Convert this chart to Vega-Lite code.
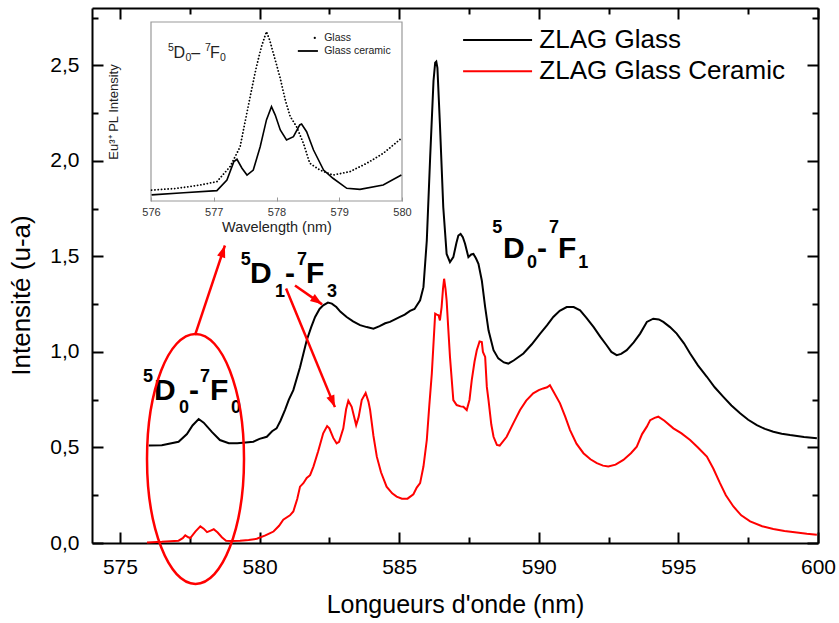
{
"$schema": "https://vega.github.io/schema/vega-lite/v6.json",
"width": 726, "height": 535,
"autosize": {"type": "none"},
"padding": {"left": 92, "top": 8, "right": 21, "bottom": 80},
"background": "white",
"config": {"font": "Liberation Sans", "view": {"stroke": null},
  "axis": {"grid": false, "labelFlush": false, "labelOverlap": false, "labelBound": false, "domainColor": "black", "tickColor": "black", "labelColor": "black", "titleColor": "black", "titleFontWeight": "normal"}},
"datasets": {
"spectra": [
{"s":"ZLAG Glass","wl":576.03,"i":0.51},{"s":"ZLAG Glass","wl":576.5,"i":0.512},{"s":"ZLAG Glass","wl":577.1,"i":0.53},{"s":"ZLAG Glass","wl":577.4,"i":0.57},{"s":"ZLAG Glass","wl":577.6,"i":0.615},{"s":"ZLAG Glass","wl":577.82,"i":0.649},{"s":"ZLAG Glass","wl":578.0,"i":0.63},{"s":"ZLAG Glass","wl":578.3,"i":0.58},{"s":"ZLAG Glass","wl":578.58,"i":0.539},{"s":"ZLAG Glass","wl":578.9,"i":0.522},{"s":"ZLAG Glass","wl":579.2,"i":0.522},{"s":"ZLAG Glass","wl":579.5,"i":0.526},{"s":"ZLAG Glass","wl":579.78,"i":0.53},{"s":"ZLAG Glass","wl":580.0,"i":0.545},{"s":"ZLAG Glass","wl":580.26,"i":0.556},{"s":"ZLAG Glass","wl":580.45,"i":0.585},{"s":"ZLAG Glass","wl":580.61,"i":0.6},{"s":"ZLAG Glass","wl":580.75,"i":0.64},{"s":"ZLAG Glass","wl":580.91,"i":0.696},{"s":"ZLAG Glass","wl":581.05,"i":0.75},{"s":"ZLAG Glass","wl":581.21,"i":0.8},{"s":"ZLAG Glass","wl":581.45,"i":0.92},{"s":"ZLAG Glass","wl":581.69,"i":1.061},{"s":"ZLAG Glass","wl":581.85,"i":1.13},{"s":"ZLAG Glass","wl":581.99,"i":1.183},{"s":"ZLAG Glass","wl":582.15,"i":1.225},{"s":"ZLAG Glass","wl":582.28,"i":1.244},{"s":"ZLAG Glass","wl":582.45,"i":1.258},{"s":"ZLAG Glass","wl":582.59,"i":1.253},{"s":"ZLAG Glass","wl":582.75,"i":1.235},{"s":"ZLAG Glass","wl":582.9,"i":1.21},{"s":"ZLAG Glass","wl":583.12,"i":1.183},{"s":"ZLAG Glass","wl":583.35,"i":1.16},{"s":"ZLAG Glass","wl":583.6,"i":1.14},{"s":"ZLAG Glass","wl":583.84,"i":1.13},{"s":"ZLAG Glass","wl":584.08,"i":1.122},{"s":"ZLAG Glass","wl":584.3,"i":1.135},{"s":"ZLAG Glass","wl":584.5,"i":1.15},{"s":"ZLAG Glass","wl":584.67,"i":1.157},{"s":"ZLAG Glass","wl":584.85,"i":1.17},{"s":"ZLAG Glass","wl":585.03,"i":1.183},{"s":"ZLAG Glass","wl":585.2,"i":1.195},{"s":"ZLAG Glass","wl":585.39,"i":1.215},{"s":"ZLAG Glass","wl":585.55,"i":1.225},{"s":"ZLAG Glass","wl":585.75,"i":1.27},{"s":"ZLAG Glass","wl":585.87,"i":1.339},{"s":"ZLAG Glass","wl":585.99,"i":1.583},{"s":"ZLAG Glass","wl":586.11,"i":2.018},{"s":"ZLAG Glass","wl":586.23,"i":2.418},{"s":"ZLAG Glass","wl":586.29,"i":2.514},{"s":"ZLAG Glass","wl":586.33,"i":2.52},{"s":"ZLAG Glass","wl":586.37,"i":2.487},{"s":"ZLAG Glass","wl":586.46,"i":2.192},{"s":"ZLAG Glass","wl":586.58,"i":1.757},{"s":"ZLAG Glass","wl":586.7,"i":1.513},{"s":"ZLAG Glass","wl":586.82,"i":1.47},{"s":"ZLAG Glass","wl":586.94,"i":1.496},{"s":"ZLAG Glass","wl":587.05,"i":1.57},{"s":"ZLAG Glass","wl":587.12,"i":1.609},{"s":"ZLAG Glass","wl":587.2,"i":1.618},{"s":"ZLAG Glass","wl":587.28,"i":1.6},{"s":"ZLAG Glass","wl":587.36,"i":1.566},{"s":"ZLAG Glass","wl":587.48,"i":1.496},{"s":"ZLAG Glass","wl":587.58,"i":1.51},{"s":"ZLAG Glass","wl":587.66,"i":1.513},{"s":"ZLAG Glass","wl":587.75,"i":1.49},{"s":"ZLAG Glass","wl":587.84,"i":1.461},{"s":"ZLAG Glass","wl":587.96,"i":1.374},{"s":"ZLAG Glass","wl":588.08,"i":1.235},{"s":"ZLAG Glass","wl":588.2,"i":1.113},{"s":"ZLAG Glass","wl":588.38,"i":1.009},{"s":"ZLAG Glass","wl":588.55,"i":0.966},{"s":"ZLAG Glass","wl":588.75,"i":0.945},{"s":"ZLAG Glass","wl":588.91,"i":0.939},{"s":"ZLAG Glass","wl":589.1,"i":0.955},{"s":"ZLAG Glass","wl":589.45,"i":0.992},{"s":"ZLAG Glass","wl":589.75,"i":1.04},{"s":"ZLAG Glass","wl":590.05,"i":1.096},{"s":"ZLAG Glass","wl":590.3,"i":1.14},{"s":"ZLAG Glass","wl":590.52,"i":1.183},{"s":"ZLAG Glass","wl":590.75,"i":1.215},{"s":"ZLAG Glass","wl":591.0,"i":1.235},{"s":"ZLAG Glass","wl":591.25,"i":1.235},{"s":"ZLAG Glass","wl":591.48,"i":1.218},{"s":"ZLAG Glass","wl":591.7,"i":1.18},{"s":"ZLAG Glass","wl":591.96,"i":1.131},{"s":"ZLAG Glass","wl":592.2,"i":1.08},{"s":"ZLAG Glass","wl":592.43,"i":1.035},{"s":"ZLAG Glass","wl":592.6,"i":1.0},{"s":"ZLAG Glass","wl":592.79,"i":0.983},{"s":"ZLAG Glass","wl":592.95,"i":0.99},{"s":"ZLAG Glass","wl":593.15,"i":1.009},{"s":"ZLAG Glass","wl":593.4,"i":1.05},{"s":"ZLAG Glass","wl":593.63,"i":1.096},{"s":"ZLAG Glass","wl":593.87,"i":1.157},{"s":"ZLAG Glass","wl":594.1,"i":1.174},{"s":"ZLAG Glass","wl":594.3,"i":1.17},{"s":"ZLAG Glass","wl":594.46,"i":1.157},{"s":"ZLAG Glass","wl":594.7,"i":1.13},{"s":"ZLAG Glass","wl":594.94,"i":1.096},{"s":"ZLAG Glass","wl":595.2,"i":1.045},{"s":"ZLAG Glass","wl":595.42,"i":0.992},{"s":"ZLAG Glass","wl":595.7,"i":0.93},{"s":"ZLAG Glass","wl":596.02,"i":0.87},{"s":"ZLAG Glass","wl":596.3,"i":0.815},{"s":"ZLAG Glass","wl":596.61,"i":0.765},{"s":"ZLAG Glass","wl":596.9,"i":0.72},{"s":"ZLAG Glass","wl":597.21,"i":0.679},{"s":"ZLAG Glass","wl":597.5,"i":0.645},{"s":"ZLAG Glass","wl":597.81,"i":0.617},{"s":"ZLAG Glass","wl":598.1,"i":0.597},{"s":"ZLAG Glass","wl":598.4,"i":0.582},{"s":"ZLAG Glass","wl":598.7,"i":0.572},{"s":"ZLAG Glass","wl":599.0,"i":0.565},{"s":"ZLAG Glass","wl":599.5,"i":0.555},{"s":"ZLAG Glass","wl":599.96,"i":0.548},
{"s":"ZLAG Glass Ceramic","wl":575.97,"i":0.003},{"s":"ZLAG Glass Ceramic","wl":576.5,"i":0.006},{"s":"ZLAG Glass Ceramic","wl":577.1,"i":0.012},{"s":"ZLAG Glass Ceramic","wl":577.25,"i":0.025},{"s":"ZLAG Glass Ceramic","wl":577.34,"i":0.04},{"s":"ZLAG Glass Ceramic","wl":577.45,"i":0.03},{"s":"ZLAG Glass Ceramic","wl":577.52,"i":0.026},{"s":"ZLAG Glass Ceramic","wl":577.7,"i":0.06},{"s":"ZLAG Glass Ceramic","wl":577.88,"i":0.087},{"s":"ZLAG Glass Ceramic","wl":578.0,"i":0.075},{"s":"ZLAG Glass Ceramic","wl":578.12,"i":0.057},{"s":"ZLAG Glass Ceramic","wl":578.25,"i":0.065},{"s":"ZLAG Glass Ceramic","wl":578.36,"i":0.072},{"s":"ZLAG Glass Ceramic","wl":578.5,"i":0.055},{"s":"ZLAG Glass Ceramic","wl":578.65,"i":0.03},{"s":"ZLAG Glass Ceramic","wl":578.8,"i":0.012},{"s":"ZLAG Glass Ceramic","wl":579.0,"i":0.01},{"s":"ZLAG Glass Ceramic","wl":579.3,"i":0.012},{"s":"ZLAG Glass Ceramic","wl":579.61,"i":0.016},{"s":"ZLAG Glass Ceramic","wl":579.9,"i":0.022},{"s":"ZLAG Glass Ceramic","wl":580.21,"i":0.04},{"s":"ZLAG Glass Ceramic","wl":580.38,"i":0.052},{"s":"ZLAG Glass Ceramic","wl":580.5,"i":0.06},{"s":"ZLAG Glass Ceramic","wl":580.7,"i":0.09},{"s":"ZLAG Glass Ceramic","wl":580.85,"i":0.122},{"s":"ZLAG Glass Ceramic","wl":581.09,"i":0.145},{"s":"ZLAG Glass Ceramic","wl":581.21,"i":0.165},{"s":"ZLAG Glass Ceramic","wl":581.35,"i":0.23},{"s":"ZLAG Glass Ceramic","wl":581.45,"i":0.295},{"s":"ZLAG Glass Ceramic","wl":581.57,"i":0.313},{"s":"ZLAG Glass Ceramic","wl":581.69,"i":0.34},{"s":"ZLAG Glass Ceramic","wl":581.81,"i":0.355},{"s":"ZLAG Glass Ceramic","wl":581.93,"i":0.4},{"s":"ZLAG Glass Ceramic","wl":582.1,"i":0.48},{"s":"ZLAG Glass Ceramic","wl":582.28,"i":0.574},{"s":"ZLAG Glass Ceramic","wl":582.42,"i":0.612},{"s":"ZLAG Glass Ceramic","wl":582.5,"i":0.6},{"s":"ZLAG Glass Ceramic","wl":582.64,"i":0.55},{"s":"ZLAG Glass Ceramic","wl":582.76,"i":0.522},{"s":"ZLAG Glass Ceramic","wl":582.85,"i":0.53},{"s":"ZLAG Glass Ceramic","wl":583.0,"i":0.6},{"s":"ZLAG Glass Ceramic","wl":583.1,"i":0.7},{"s":"ZLAG Glass Ceramic","wl":583.18,"i":0.745},{"s":"ZLAG Glass Ceramic","wl":583.3,"i":0.713},{"s":"ZLAG Glass Ceramic","wl":583.46,"i":0.617},{"s":"ZLAG Glass Ceramic","wl":583.55,"i":0.66},{"s":"ZLAG Glass Ceramic","wl":583.66,"i":0.748},{"s":"ZLAG Glass Ceramic","wl":583.8,"i":0.785},{"s":"ZLAG Glass Ceramic","wl":583.9,"i":0.74},{"s":"ZLAG Glass Ceramic","wl":583.96,"i":0.696},{"s":"ZLAG Glass Ceramic","wl":584.08,"i":0.56},{"s":"ZLAG Glass Ceramic","wl":584.2,"i":0.452},{"s":"ZLAG Glass Ceramic","wl":584.35,"i":0.37},{"s":"ZLAG Glass Ceramic","wl":584.55,"i":0.295},{"s":"ZLAG Glass Ceramic","wl":584.75,"i":0.26},{"s":"ZLAG Glass Ceramic","wl":584.91,"i":0.243},{"s":"ZLAG Glass Ceramic","wl":585.1,"i":0.232},{"s":"ZLAG Glass Ceramic","wl":585.3,"i":0.232},{"s":"ZLAG Glass Ceramic","wl":585.51,"i":0.255},{"s":"ZLAG Glass Ceramic","wl":585.63,"i":0.29},{"s":"ZLAG Glass Ceramic","wl":585.75,"i":0.313},{"s":"ZLAG Glass Ceramic","wl":585.87,"i":0.4},{"s":"ZLAG Glass Ceramic","wl":585.99,"i":0.539},{"s":"ZLAG Glass Ceramic","wl":586.08,"i":0.72},{"s":"ZLAG Glass Ceramic","wl":586.17,"i":0.887},{"s":"ZLAG Glass Ceramic","wl":586.29,"i":1.2},{"s":"ZLAG Glass Ceramic","wl":586.35,"i":1.195},{"s":"ZLAG Glass Ceramic","wl":586.41,"i":1.192},{"s":"ZLAG Glass Ceramic","wl":586.46,"i":1.165},{"s":"ZLAG Glass Ceramic","wl":586.52,"i":1.235},{"s":"ZLAG Glass Ceramic","wl":586.57,"i":1.33},{"s":"ZLAG Glass Ceramic","wl":586.61,"i":1.383},{"s":"ZLAG Glass Ceramic","wl":586.66,"i":1.33},{"s":"ZLAG Glass Ceramic","wl":586.7,"i":1.27},{"s":"ZLAG Glass Ceramic","wl":586.76,"i":1.12},{"s":"ZLAG Glass Ceramic","wl":586.82,"i":0.974},{"s":"ZLAG Glass Ceramic","wl":586.94,"i":0.748},{"s":"ZLAG Glass Ceramic","wl":587.06,"i":0.722},{"s":"ZLAG Glass Ceramic","wl":587.2,"i":0.715},{"s":"ZLAG Glass Ceramic","wl":587.3,"i":0.713},{"s":"ZLAG Glass Ceramic","wl":587.42,"i":0.696},{"s":"ZLAG Glass Ceramic","wl":587.52,"i":0.75},{"s":"ZLAG Glass Ceramic","wl":587.6,"i":0.852},{"s":"ZLAG Glass Ceramic","wl":587.7,"i":0.95},{"s":"ZLAG Glass Ceramic","wl":587.78,"i":1.009},{"s":"ZLAG Glass Ceramic","wl":587.88,"i":1.055},{"s":"ZLAG Glass Ceramic","wl":587.96,"i":1.052},{"s":"ZLAG Glass Ceramic","wl":588.0,"i":1.0},{"s":"ZLAG Glass Ceramic","wl":588.08,"i":0.974},{"s":"ZLAG Glass Ceramic","wl":588.14,"i":0.817},{"s":"ZLAG Glass Ceramic","wl":588.2,"i":0.748},{"s":"ZLAG Glass Ceramic","wl":588.3,"i":0.62},{"s":"ZLAG Glass Ceramic","wl":588.38,"i":0.556},{"s":"ZLAG Glass Ceramic","wl":588.5,"i":0.513},{"s":"ZLAG Glass Ceramic","wl":588.6,"i":0.51},{"s":"ZLAG Glass Ceramic","wl":588.85,"i":0.556},{"s":"ZLAG Glass Ceramic","wl":589.1,"i":0.63},{"s":"ZLAG Glass Ceramic","wl":589.33,"i":0.696},{"s":"ZLAG Glass Ceramic","wl":589.55,"i":0.745},{"s":"ZLAG Glass Ceramic","wl":589.8,"i":0.783},{"s":"ZLAG Glass Ceramic","wl":590.0,"i":0.8},{"s":"ZLAG Glass Ceramic","wl":590.16,"i":0.809},{"s":"ZLAG Glass Ceramic","wl":590.3,"i":0.815},{"s":"ZLAG Glass Ceramic","wl":590.4,"i":0.826},{"s":"ZLAG Glass Ceramic","wl":590.5,"i":0.8},{"s":"ZLAG Glass Ceramic","wl":590.76,"i":0.731},{"s":"ZLAG Glass Ceramic","wl":590.95,"i":0.66},{"s":"ZLAG Glass Ceramic","wl":591.12,"i":0.591},{"s":"ZLAG Glass Ceramic","wl":591.35,"i":0.52},{"s":"ZLAG Glass Ceramic","wl":591.6,"i":0.47},{"s":"ZLAG Glass Ceramic","wl":591.85,"i":0.438},{"s":"ZLAG Glass Ceramic","wl":592.08,"i":0.418},{"s":"ZLAG Glass Ceramic","wl":592.3,"i":0.405},{"s":"ZLAG Glass Ceramic","wl":592.49,"i":0.4},{"s":"ZLAG Glass Ceramic","wl":592.75,"i":0.41},{"s":"ZLAG Glass Ceramic","wl":593.03,"i":0.435},{"s":"ZLAG Glass Ceramic","wl":593.3,"i":0.47},{"s":"ZLAG Glass Ceramic","wl":593.51,"i":0.504},{"s":"ZLAG Glass Ceramic","wl":593.7,"i":0.57},{"s":"ZLAG Glass Ceramic","wl":593.87,"i":0.609},{"s":"ZLAG Glass Ceramic","wl":593.99,"i":0.643},{"s":"ZLAG Glass Ceramic","wl":594.15,"i":0.655},{"s":"ZLAG Glass Ceramic","wl":594.28,"i":0.661},{"s":"ZLAG Glass Ceramic","wl":594.5,"i":0.64},{"s":"ZLAG Glass Ceramic","wl":594.82,"i":0.6},{"s":"ZLAG Glass Ceramic","wl":595.1,"i":0.575},{"s":"ZLAG Glass Ceramic","wl":595.42,"i":0.539},{"s":"ZLAG Glass Ceramic","wl":595.7,"i":0.5},{"s":"ZLAG Glass Ceramic","wl":596.02,"i":0.452},{"s":"ZLAG Glass Ceramic","wl":596.25,"i":0.39},{"s":"ZLAG Glass Ceramic","wl":596.49,"i":0.313},{"s":"ZLAG Glass Ceramic","wl":596.7,"i":0.25},{"s":"ZLAG Glass Ceramic","wl":596.97,"i":0.191},{"s":"ZLAG Glass Ceramic","wl":597.25,"i":0.145},{"s":"ZLAG Glass Ceramic","wl":597.57,"i":0.113},{"s":"ZLAG Glass Ceramic","wl":598.0,"i":0.088},{"s":"ZLAG Glass Ceramic","wl":598.4,"i":0.073},{"s":"ZLAG Glass Ceramic","wl":598.8,"i":0.063},{"s":"ZLAG Glass Ceramic","wl":599.24,"i":0.055},{"s":"ZLAG Glass Ceramic","wl":599.6,"i":0.048},{"s":"ZLAG Glass Ceramic","wl":599.96,"i":0.043}
],
"inset": [
{"s":"Glass","wl":576.01,"i":0.061},{"s":"Glass","wl":576.4,"i":0.07},{"s":"Glass","wl":576.78,"i":0.089},{"s":"Glass","wl":577.05,"i":0.108},{"s":"Glass","wl":577.26,"i":0.192},{"s":"Glass","wl":577.42,"i":0.303},{"s":"Glass","wl":577.58,"i":0.583},{"s":"Glass","wl":577.68,"i":0.75},{"s":"Glass","wl":577.76,"i":0.862},{"s":"Glass","wl":577.84,"i":0.946},{"s":"Glass","wl":577.89,"i":0.9},{"s":"Glass","wl":577.98,"i":0.788},{"s":"Glass","wl":578.06,"i":0.685},{"s":"Glass","wl":578.14,"i":0.564},{"s":"Glass","wl":578.22,"i":0.471},{"s":"Glass","wl":578.32,"i":0.415},{"s":"Glass","wl":578.43,"i":0.322},{"s":"Glass","wl":578.53,"i":0.211},{"s":"Glass","wl":578.69,"i":0.173},{"s":"Glass","wl":578.9,"i":0.145},{"s":"Glass","wl":579.17,"i":0.164},{"s":"Glass","wl":579.44,"i":0.211},{"s":"Glass","wl":579.7,"i":0.266},{"s":"Glass","wl":579.99,"i":0.35},
{"s":"Glass ceramic","wl":576.01,"i":0.034},{"s":"Glass ceramic","wl":576.52,"i":0.046},{"s":"Glass ceramic","wl":577.05,"i":0.058},{"s":"Glass ceramic","wl":577.21,"i":0.117},{"s":"Glass ceramic","wl":577.32,"i":0.22},{"s":"Glass ceramic","wl":577.37,"i":0.233},{"s":"Glass ceramic","wl":577.45,"i":0.183},{"s":"Glass ceramic","wl":577.53,"i":0.145},{"s":"Glass ceramic","wl":577.63,"i":0.173},{"s":"Glass ceramic","wl":577.74,"i":0.303},{"s":"Glass ceramic","wl":577.84,"i":0.453},{"s":"Glass ceramic","wl":577.92,"i":0.527},{"s":"Glass ceramic","wl":577.98,"i":0.48},{"s":"Glass ceramic","wl":578.06,"i":0.397},{"s":"Glass ceramic","wl":578.16,"i":0.341},{"s":"Glass ceramic","wl":578.27,"i":0.359},{"s":"Glass ceramic","wl":578.37,"i":0.425},{"s":"Glass ceramic","wl":578.4,"i":0.43},{"s":"Glass ceramic","wl":578.48,"i":0.387},{"s":"Glass ceramic","wl":578.59,"i":0.285},{"s":"Glass ceramic","wl":578.75,"i":0.173},{"s":"Glass ceramic","wl":578.9,"i":0.127},{"s":"Glass ceramic","wl":579.12,"i":0.071},{"s":"Glass ceramic","wl":579.33,"i":0.065},{"s":"Glass ceramic","wl":579.7,"i":0.089},{"s":"Glass ceramic","wl":579.99,"i":0.145}
],
"labels": [
{"t":"5","wl":575.83,"i":0.842,"k":"sup"},{"t":"D","wl":576.22,"i":0.748,"k":"big"},{"t":"0","wl":577.12,"i":0.68,"k":"sub"},{"t":"-","wl":577.47,"i":0.748,"k":"big"},{"t":"7","wl":577.87,"i":0.842,"k":"sup"},{"t":"F","wl":578.23,"i":0.748,"k":"big"},{"t":"0","wl":578.98,"i":0.68,"k":"sub"},
{"t":"5","wl":579.33,"i":1.453,"k":"sup"},{"t":"D","wl":579.66,"i":1.359,"k":"big"},{"t":"1","wl":580.55,"i":1.286,"k":"sub"},{"t":"-","wl":580.91,"i":1.359,"k":"big"},{"t":"7","wl":581.34,"i":1.453,"k":"sup"},{"t":"F","wl":581.66,"i":1.359,"k":"big"},{"t":"3","wl":582.42,"i":1.286,"k":"sub"},
{"t":"5","wl":588.33,"i":1.62,"k":"sup"},{"t":"D","wl":588.72,"i":1.494,"k":"big"},{"t":"0","wl":589.58,"i":1.437,"k":"sub"},{"t":"-","wl":589.94,"i":1.494,"k":"big"},{"t":"7","wl":590.37,"i":1.62,"k":"sup"},{"t":"F","wl":590.69,"i":1.494,"k":"big"},{"t":"1","wl":591.41,"i":1.437,"k":"sub"}
],
"ilabels": [
{"t":"5","wl":576.27,"i":0.838,"k":"sup"},{"t":"D","wl":576.36,"i":0.799,"k":"big"},{"t":"0","wl":576.55,"i":0.782,"k":"sub"},{"t":"–","wl":576.64,"i":0.799,"k":"big"},{"t":"7","wl":576.86,"i":0.838,"k":"sup"},{"t":"F","wl":576.94,"i":0.799,"k":"big"},{"t":"0","wl":577.1,"i":0.782,"k":"sub"}
],
"arrows": [
{"id":1,"wl":577.69,"i":1.088,"wl2":578.76,"i2":1.557},
{"id":2,"wl":580.95,"i":1.332,"wl2":582.7,"i2":0.711},
{"id":3,"wl":581.27,"i":1.348,"wl2":582.24,"i2":1.249}
],
"ellipse": [{"wl":577.707,"i":0.44}],
"legend": [
{"s":"ZLAG Glass","wl":587.29,"wl2":589.76,"tx":590.02,"i":2.633},
{"s":"ZLAG Glass Ceramic","wl":587.29,"wl2":589.76,"tx":590.02,"i":2.469}
],
"frame": [{"x0":576,"x1":580,"y0":0,"y1":1}],
"ileg": [
{"s":"Glass","wl":578.61,"wl2":578.61,"tx":578.76,"i":0.911},
{"s":"Glass ceramic","wl":578.34,"wl2":578.66,"tx":578.76,"i":0.838}
]
},
"resolve": {"scale": {"x": "independent", "y": "independent"}, "axis": {"x": "independent", "y": "independent"}},
"layer": [
{
 "data": {"name": "spectra"},
 "mark": {"type": "line", "strokeWidth": 2},
 "encoding": {
  "x": {"field": "wl", "type": "quantitative", "scale": {"domain": [574, 600], "nice": false, "zero": false},
   "axis": {"orient": "bottom", "values": [575, 580, 585, 590, 595, 600], "format": "d", "labelFontSize": 21, "labelPadding": 24, "tickSize": -11, "tickWidth": 2, "domainWidth": 2, "title": "Longueurs d'onde (nm)", "titleFontSize": 25, "titlePadding": 15}},
  "y": {"field": "i", "type": "quantitative", "scale": {"domain": [0, 2.8], "nice": false, "zero": false},
   "axis": {"orient": "left", "values": [0, 0.5, 1, 1.5, 2, 2.5], "labelExpr": "replace(format(datum.value, '.1f'), '.', ',')", "labelFontSize": 21, "labelPadding": 24, "tickSize": -11, "tickWidth": 2, "domainWidth": 2, "title": "Intensité (u-a)", "titleFontSize": 26, "titlePadding": 15, "titleY": 287}},
  "color": {"field": "s", "type": "nominal", "scale": {"domain": ["ZLAG Glass", "ZLAG Glass Ceramic"], "range": ["#000000", "#ff0000"]}, "legend": null}
 }
},
{
 "data": {"name": "labels"},
 "transform": [{"filter": "datum.k == 'big'"}],
 "mark": {"type": "text", "fontSize": 30, "fontWeight": "bold", "align": "left", "baseline": "alphabetic", "color": "black"},
 "encoding": {
  "x": {"field": "wl", "type": "quantitative", "scale": {"domain": [574, 600], "nice": false, "zero": false},
   "axis": {"orient": "bottom", "values": [577.5, 582.5, 587.5, 592.5, 597.5], "labels": false, "domain": false, "tickSize": -6, "tickWidth": 2, "title": null}},
  "y": {"field": "i", "type": "quantitative", "scale": {"domain": [0, 2.8], "nice": false, "zero": false},
   "axis": {"orient": "left", "values": [0.25, 0.75, 1.25, 1.75, 2.25, 2.75], "labels": false, "domain": false, "tickSize": -6, "tickWidth": 2, "title": null}},
  "text": {"field": "t", "type": "nominal"}
 }
},
{
 "data": {"name": "labels"},
 "transform": [{"filter": "datum.k != 'big'"}],
 "mark": {"type": "text", "fontSize": 18, "fontWeight": "bold", "align": "left", "baseline": "alphabetic", "color": "black"},
 "encoding": {
  "x": {"field": "wl", "type": "quantitative", "scale": {"domain": [574, 600], "nice": false, "zero": false},
   "axis": {"orient": "top", "values": [575, 580, 585, 590, 595, 600], "labels": false, "tickSize": -11, "tickWidth": 2, "domainWidth": 2, "title": null}},
  "y": {"field": "i", "type": "quantitative", "scale": {"domain": [0, 2.8], "nice": false, "zero": false},
   "axis": {"orient": "right", "values": [0, 0.5, 1, 1.5, 2, 2.5], "labels": false, "tickSize": -11, "tickWidth": 2, "domainWidth": 2, "title": null}},
  "text": {"field": "t", "type": "nominal"}
 }
},
{
 "data": {"name": "arrows"},
 "mark": {"type": "rule", "color": "#ff0000", "strokeWidth": 2.5},
 "encoding": {
  "x": {"field": "wl", "type": "quantitative", "scale": {"domain": [574, 600], "nice": false, "zero": false},
   "axis": {"orient": "top", "values": [577.5, 582.5, 587.5, 592.5, 597.5], "labels": false, "domain": false, "tickSize": -6, "tickWidth": 2, "title": null}},
  "y": {"field": "i", "type": "quantitative", "scale": {"domain": [0, 2.8], "nice": false, "zero": false},
   "axis": {"orient": "right", "values": [0.25, 0.75, 1.25, 1.75, 2.25, 2.75], "labels": false, "domain": false, "tickSize": -6, "tickWidth": 2, "title": null}},
  "x2": {"field": "wl2"},
  "y2": {"field": "i2"}
 }
},
{
 "data": {"name": "arrows"},
 "mark": {"type": "point", "shape": "M0,0L-0.5,1.4L0.5,1.4Z", "filled": true, "size": 289, "color": "#ff0000", "opacity": 1},
 "encoding": {
  "x": {"field": "wl2", "type": "quantitative", "scale": {"domain": [574, 600], "nice": false, "zero": false}, "axis": null},
  "y": {"field": "i2", "type": "quantitative", "scale": {"domain": [0, 2.8], "nice": false, "zero": false}, "axis": null},
  "angle": {"condition": [{"test": "datum.id == 1", "value": 18.4}, {"test": "datum.id == 2", "value": 157.6}], "value": 125.1}
 }
},
{
 "data": {"name": "ellipse"},
 "mark": {"type": "point", "shape": "M0.388,0C0.388,0.5523,0.2143,1,0,1C-0.2143,1,-0.388,0.5523,-0.388,0C-0.388,-0.5523,-0.2143,-1,0,-1C0.2143,-1,0.388,-0.5523,0.388,0Z", "filled": false, "size": 62500, "stroke": "#ff0000", "strokeWidth": 2.5, "opacity": 1},
 "encoding": {
  "x": {"field": "wl", "type": "quantitative", "scale": {"domain": [574, 600], "nice": false, "zero": false}, "axis": null},
  "y": {"field": "i", "type": "quantitative", "scale": {"domain": [0, 2.8], "nice": false, "zero": false}, "axis": null}
 }
},
{
 "data": {"name": "legend"},
 "mark": {"type": "rule", "strokeWidth": 2},
 "encoding": {
  "x": {"field": "wl", "type": "quantitative", "scale": {"domain": [574, 600], "nice": false, "zero": false}, "axis": null},
  "x2": {"field": "wl2"},
  "y": {"field": "i", "type": "quantitative", "scale": {"domain": [0, 2.8], "nice": false, "zero": false}, "axis": null},
  "color": {"field": "s", "type": "nominal", "scale": {"domain": ["ZLAG Glass", "ZLAG Glass Ceramic"], "range": ["#000000", "#ff0000"]}, "legend": null}
 }
},
{
 "data": {"name": "legend"},
 "mark": {"type": "text", "fontSize": 26, "align": "left", "baseline": "middle", "color": "black"},
 "encoding": {
  "x": {"field": "tx", "type": "quantitative", "scale": {"domain": [574, 600], "nice": false, "zero": false}, "axis": null},
  "y": {"field": "i", "type": "quantitative", "scale": {"domain": [0, 2.8], "nice": false, "zero": false}, "axis": null},
  "text": {"field": "s", "type": "nominal"}
 }
},
{
 "data": {"name": "frame"},
 "mark": {"type": "rect", "filled": false, "stroke": "#999999", "strokeWidth": 1.2},
 "encoding": {
  "x": {"field": "x0", "type": "quantitative", "scale": {"domain": [576, 580], "nice": false, "zero": false, "range": [59, 310]},
   "axis": {"orient": "bottom", "offset": -342, "values": [576, 577, 578, 579, 580], "format": "d", "labelFontSize": 11, "labelColor": "#333333", "tickSize": -4, "tickColor": "#999999", "tickWidth": 1, "domain": false, "labelPadding": 9, "title": "Wavelength (nm)", "titleFontSize": 14.5, "titleColor": "#222222", "titlePadding": 3}},
  "x2": {"field": "x1"},
  "y": {"field": "y0", "type": "quantitative", "scale": {"domain": [0, 1], "nice": false, "zero": false, "range": [193, 14]},
   "axis": {"orient": "left", "offset": -59, "labels": false, "ticks": false, "domain": false, "title": "Eu³⁺ PL Intensity", "titleFontSize": 13, "titleColor": "#222222", "titlePadding": 31}},
  "y2": {"field": "y1"}
 }
},
{
 "data": {"name": "inset"},
 "transform": [{"filter": "datum.s == 'Glass'"}],
 "mark": {"type": "line", "strokeWidth": 1.8, "strokeCap": "round", "strokeDash": [0.1, 3.2], "color": "black"},
 "encoding": {
  "x": {"field": "wl", "type": "quantitative", "scale": {"domain": [576, 580], "nice": false, "zero": false, "range": [59, 310]}, "axis": null},
  "y": {"field": "i", "type": "quantitative", "scale": {"domain": [0, 1], "nice": false, "zero": false, "range": [193, 14]}, "axis": null}
 }
},
{
 "data": {"name": "inset"},
 "transform": [{"filter": "datum.s == 'Glass ceramic'"}],
 "mark": {"type": "line", "strokeWidth": 1.6, "color": "black"},
 "encoding": {
  "x": {"field": "wl", "type": "quantitative", "scale": {"domain": [576, 580], "nice": false, "zero": false, "range": [59, 310]}, "axis": null},
  "y": {"field": "i", "type": "quantitative", "scale": {"domain": [0, 1], "nice": false, "zero": false, "range": [193, 14]}, "axis": null}
 }
},
{
 "data": {"name": "ileg"},
 "transform": [{"filter": "datum.s == 'Glass ceramic'"}],
 "mark": {"type": "rule", "strokeWidth": 1.8, "color": "black"},
 "encoding": {
  "x": {"field": "wl", "type": "quantitative", "scale": {"domain": [576, 580], "nice": false, "zero": false, "range": [59, 310]}, "axis": null},
  "x2": {"field": "wl2"},
  "y": {"field": "i", "type": "quantitative", "scale": {"domain": [0, 1], "nice": false, "zero": false, "range": [193, 14]}, "axis": null}
 }
},
{
 "data": {"name": "ileg"},
 "transform": [{"filter": "datum.s == 'Glass'"}],
 "mark": {"type": "point", "shape": "circle", "filled": true, "size": 5, "color": "black", "opacity": 1},
 "encoding": {
  "x": {"field": "wl", "type": "quantitative", "scale": {"domain": [576, 580], "nice": false, "zero": false, "range": [59, 310]}, "axis": null},
  "y": {"field": "i", "type": "quantitative", "scale": {"domain": [0, 1], "nice": false, "zero": false, "range": [193, 14]}, "axis": null}
 }
},
{
 "data": {"name": "ileg"},
 "mark": {"type": "text", "fontSize": 10.5, "align": "left", "baseline": "middle", "color": "#222222"},
 "encoding": {
  "x": {"field": "tx", "type": "quantitative", "scale": {"domain": [576, 580], "nice": false, "zero": false, "range": [59, 310]}, "axis": null},
  "y": {"field": "i", "type": "quantitative", "scale": {"domain": [0, 1], "nice": false, "zero": false, "range": [193, 14]}, "axis": null},
  "text": {"field": "s", "type": "nominal"}
 }
},
{
 "data": {"name": "ilabels"},
 "transform": [{"filter": "datum.k == 'big'"}],
 "mark": {"type": "text", "fontSize": 16, "align": "left", "baseline": "alphabetic", "color": "#222222"},
 "encoding": {
  "x": {"field": "wl", "type": "quantitative", "scale": {"domain": [576, 580], "nice": false, "zero": false, "range": [59, 310]}, "axis": null},
  "y": {"field": "i", "type": "quantitative", "scale": {"domain": [0, 1], "nice": false, "zero": false, "range": [193, 14]}, "axis": null},
  "text": {"field": "t", "type": "nominal"}
 }
},
{
 "data": {"name": "ilabels"},
 "transform": [{"filter": "datum.k != 'big'"}],
 "mark": {"type": "text", "fontSize": 10.5, "align": "left", "baseline": "alphabetic", "color": "#222222"},
 "encoding": {
  "x": {"field": "wl", "type": "quantitative", "scale": {"domain": [576, 580], "nice": false, "zero": false, "range": [59, 310]}, "axis": null},
  "y": {"field": "i", "type": "quantitative", "scale": {"domain": [0, 1], "nice": false, "zero": false, "range": [193, 14]}, "axis": null},
  "text": {"field": "t", "type": "nominal"}
 }
}
]
}
